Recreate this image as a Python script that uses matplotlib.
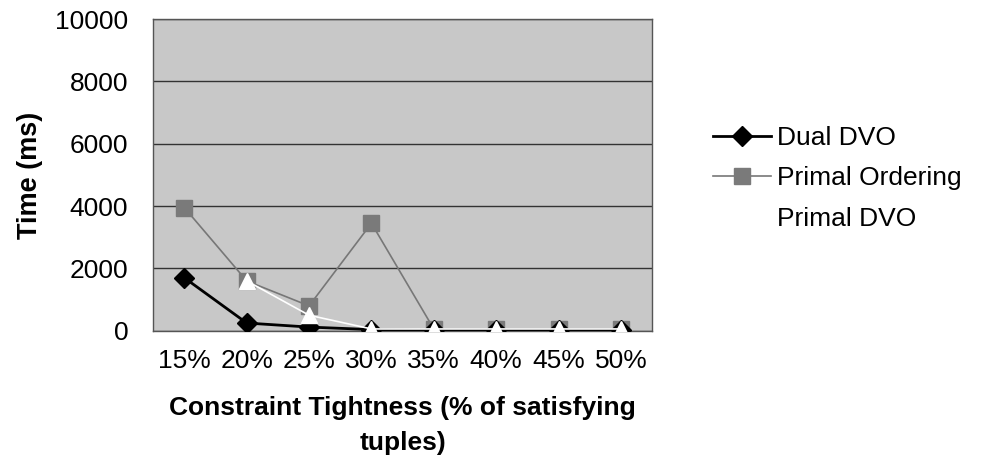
import matplotlib
matplotlib.use("Agg")
import matplotlib.pyplot as plt
import numpy as np

categories = ["15%", "20%", "25%", "30%", "35%", "40%", "45%", "50%"]
dual_dvo = [1700, 250, 120, 40, 20, 20, 20, 20]
primal_ordering = [3950, 1600, 800, 3450, 60, 60, 60, 60]
primal_dvo = [np.nan, 1600, 500, 60, 60, 60, 60, 60]
yticks = [0, 2000, 4000, 6000, 8000, 10000]

plt.rcParams['font.family'] = ['Liberation Sans', 'DejaVu Sans']

fig = plt.figure(figsize=(9.82, 4.76), dpi=100)
ax = fig.add_axes([0.156, 0.305, 0.508, 0.655])
ax.set_facecolor('#c8c8c8')
x = np.arange(len(categories))

ax.plot(x, dual_dvo, color='black', lw=2, marker='D', ms=10, mfc='black', mec='black',
        label='Dual DVO', zorder=4)
ax.plot(x, primal_ordering, color='#777777', lw=1.2, marker='s', ms=11, mfc='#7a7a7a',
        mec='#7a7a7a', label='Primal Ordering', zorder=3)
ax.plot(x, primal_dvo, color='white', lw=1.2, marker='^', ms=12, mfc='white', mec='white',
        label='Primal DVO', zorder=5)

ax.set_xlim(-0.5, len(categories) - 0.5)
ax.set_ylim(0, 10000)
ax.set_yticks(yticks)
ax.set_yticklabels([str(v) for v in yticks], fontsize=19)
ax.set_xticks(x)
ax.set_xticklabels(categories, fontsize=19)
ax.tick_params(axis='x', length=0, pad=13)
ax.tick_params(axis='y', length=0, pad=18)
ax.grid(axis='y', color='#333333', lw=1)
ax.set_axisbelow(True)
for s in ax.spines.values():
    s.set_color('#555555')
    s.set_linewidth(1)

ax.set_ylabel('Time (ms)', fontsize=19.5, fontweight='bold', labelpad=9)
ax.set_xlabel('Constraint Tightness (% of satisfying\ntuples)', fontsize=19,
              fontweight='bold', labelpad=17, linespacing=1.55)

leg = fig.legend(loc='center left', bbox_to_anchor=(0.713, 0.625), frameon=False,
                 fontsize=19, handlelength=2.2, handletextpad=0.2, labelspacing=0.62,
                 borderpad=0.0)

fig.savefig('out.png', dpi=100)
